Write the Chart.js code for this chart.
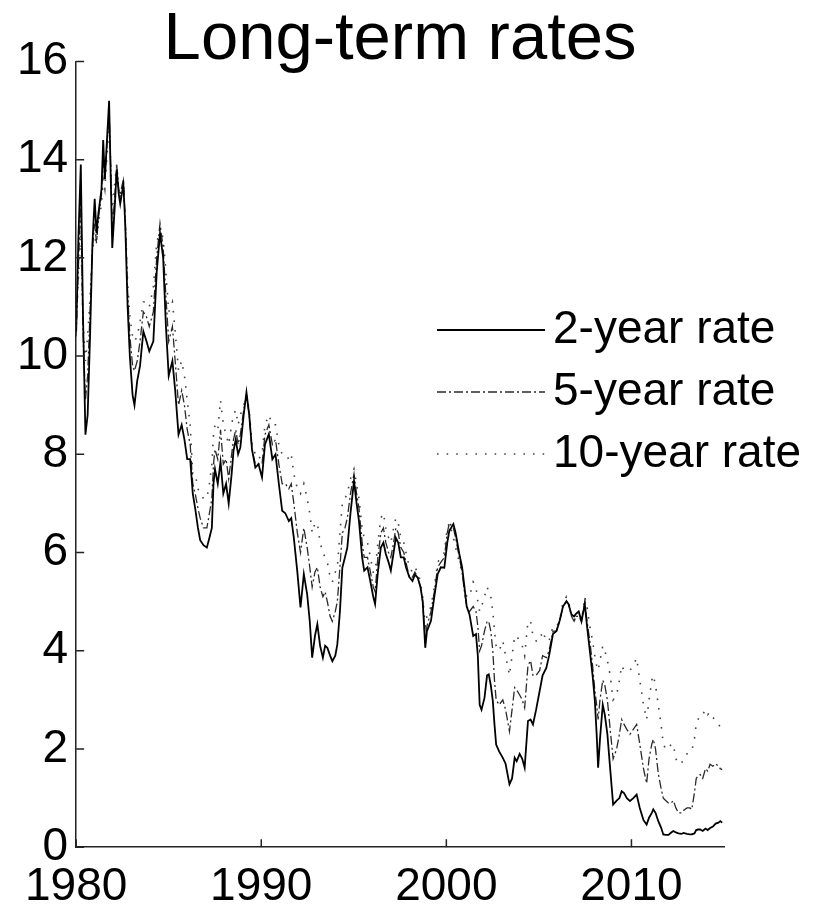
<!DOCTYPE html>
<html>
<head>
<meta charset="utf-8">
<title>Long-term rates</title>
<script src="https://cdn.jsdelivr.net/npm/chart.js@4.4.1/dist/chart.umd.min.js"></script>
<style>
  html, body { margin: 0; padding: 0; background: #fff; }
  #wrap { width: 820px; height: 904px; }
</style>
</head>
<body>
<div id="wrap"><canvas id="chart" width="820" height="904"></canvas></div>
<script>
// Axis ticks
const yearTicks = [1980, 1990, 2000, 2010];
const rateTicks = [0, 2, 4, 6, 8, 10, 12, 14, 16];
const seriesNames = ['2-year rate', '5-year rate', '10-year rate'];

// Observation dates (decimal years), one line per calendar year
const dates = [
  1980.00, 1980.12, 1980.25, 1980.37, 1980.50, 1980.62, 1980.75, 1980.88,
  1981.00, 1981.10, 1981.20, 1981.37, 1981.46, 1981.55, 1981.65, 1981.78, 1981.87, 1981.95,
  1982.08, 1982.19, 1982.30, 1982.38, 1982.55, 1982.65, 1982.78, 1982.90,
  1983.05, 1983.15, 1983.30, 1983.45, 1983.63, 1983.80, 1983.95,
  1984.17, 1984.35, 1984.53, 1984.70, 1984.85,
  1985.00, 1985.20, 1985.35, 1985.53, 1985.70, 1985.85,
  1986.00, 1986.16, 1986.30, 1986.43, 1986.58, 1986.70, 1986.88,
  1987.06, 1987.20, 1987.33, 1987.42, 1987.50, 1987.65, 1987.80, 1987.95,
  1988.10, 1988.24, 1988.40, 1988.50, 1988.62, 1988.75, 1988.87,
  1989.05, 1989.20, 1989.35, 1989.50, 1989.68, 1989.85,
  1990.04, 1990.20, 1990.41, 1990.60, 1990.77, 1990.95,
  1991.13, 1991.30, 1991.49, 1991.62, 1991.76, 1991.95,
  1992.12, 1992.30, 1992.48, 1992.62, 1992.75, 1992.90,
  1993.03, 1993.18, 1993.33, 1993.45, 1993.57, 1993.72, 1993.84,
  1994.00, 1994.11, 1994.25, 1994.38, 1994.52, 1994.65, 1994.82,
  1995.01, 1995.15, 1995.28, 1995.45, 1995.56, 1995.74, 1995.90,
  1996.05, 1996.15, 1996.30, 1996.46, 1996.60, 1996.73, 1996.88,
  1997.00, 1997.15, 1997.27, 1997.40, 1997.54, 1997.70, 1997.82,
  1998.00, 1998.17, 1998.30, 1998.45, 1998.60, 1998.72, 1998.86, 1998.95,
  1999.17, 1999.35, 1999.53, 1999.70, 1999.89,
  2000.05, 2000.16, 2000.38, 2000.50, 2000.70, 2000.85, 2000.98,
  2001.10, 2001.25, 2001.45, 2001.60, 2001.70, 2001.80, 2001.90,
  2002.06, 2002.20, 2002.29, 2002.40, 2002.51, 2002.60, 2002.69, 2002.85,
  2003.05, 2003.20, 2003.41, 2003.55, 2003.69, 2003.80, 2003.96,
  2004.10, 2004.23, 2004.41, 2004.55, 2004.68, 2004.85,
  2005.04, 2005.20, 2005.40, 2005.55, 2005.76, 2005.95,
  2006.12, 2006.30, 2006.49, 2006.60, 2006.76, 2006.90,
  2007.00, 2007.15, 2007.30, 2007.48, 2007.60, 2007.75, 2007.90,
  2008.02, 2008.12, 2008.20, 2008.30, 2008.45, 2008.56, 2008.70, 2008.85,
  2009.01, 2009.20, 2009.35, 2009.47, 2009.60, 2009.75, 2009.92,
  2010.10, 2010.28, 2010.45, 2010.65, 2010.82, 2010.95,
  2011.10, 2011.18, 2011.30, 2011.45, 2011.60, 2011.72, 2011.85,
  2012.00, 2012.15, 2012.26, 2012.40, 2012.54, 2012.70, 2012.81,
  2013.00, 2013.15, 2013.26, 2013.40, 2013.50, 2013.60, 2013.71, 2013.85,
  2014.00, 2014.12, 2014.25, 2014.40, 2014.55, 2014.70, 2014.80, 2014.90
];

// 2-year rate, percent
const rate2y = [
  10.5, 12.4, 13.9, 10.8, 8.4, 8.8, 10.4, 12.3,
  13.2, 12.5, 12.9, 13.4, 14.4, 13.6, 14.3, 15.2, 13.6, 12.2,
  13.0, 13.8, 13.3, 13.1, 13.5, 12.7, 11.0, 10.0,
  9.2, 9.0, 9.5, 9.8, 10.5, 10.3, 10.1,
  10.3, 11.7, 12.5, 12.0, 10.6,
  9.6, 9.9, 9.3, 8.4, 8.6, 8.3,
  7.9, 7.9, 7.2, 6.9, 6.5, 6.25, 6.15,
  6.1, 6.3, 6.5, 7.4, 7.7, 7.4, 7.85, 7.2,
  7.4, 7.0, 7.6, 8.07, 8.3, 8.0, 8.14,
  8.8, 9.26, 8.8, 8.1, 7.73, 7.8,
  7.53, 8.2, 8.41, 7.9, 8.0, 7.4,
  6.85, 6.8, 6.64, 6.7, 6.3, 5.6,
  4.88, 5.56, 5.15, 4.6, 3.86, 4.3,
  4.54, 4.1, 3.86, 4.1, 4.06, 3.9, 3.79,
  3.9, 4.13, 4.8, 5.69, 5.9, 6.1, 6.8,
  7.46, 7.0, 6.64, 5.9, 5.63, 5.7, 5.4,
  5.1, 4.95, 5.6, 6.1, 6.2, 5.97, 5.8,
  5.63, 6.0, 6.3, 6.2, 5.9, 5.9, 5.7,
  5.5, 5.42, 5.55, 5.49, 5.3, 5.01, 4.06, 4.4,
  4.61, 5.1, 5.56, 5.7, 5.69,
  6.2, 6.44, 6.58, 6.4, 5.97, 5.7, 5.29,
  4.9, 4.74, 4.3, 4.34, 3.9, 2.9, 2.8,
  3.04, 3.5, 3.52, 3.3, 2.98, 2.5, 2.09, 1.95,
  1.82, 1.7, 1.28, 1.4, 1.82, 1.75, 1.9,
  1.8, 1.62, 2.57, 2.6, 2.5, 2.8,
  3.18, 3.5, 3.65, 3.9, 4.34, 4.4,
  4.61, 4.9, 5.01, 4.95, 4.74, 4.7,
  4.75, 4.8, 4.6, 4.95, 4.5, 4.0, 3.5,
  3.0, 2.3, 1.62, 2.2, 2.9, 2.7, 2.3, 1.6,
  0.87, 0.95, 1.0, 1.14, 1.1, 1.0, 0.94,
  1.0, 1.07, 0.8, 0.55, 0.46, 0.6,
  0.7, 0.77, 0.7, 0.53, 0.4, 0.26, 0.25,
  0.25, 0.3, 0.33, 0.3, 0.28, 0.27, 0.29,
  0.27, 0.26, 0.26, 0.28, 0.35, 0.36, 0.36, 0.33,
  0.38, 0.35, 0.39, 0.42, 0.48, 0.5, 0.53, 0.5
];

// 5-year rate, percent
const rate5y = [
  10.4, 11.8, 13.2, 10.5, 9.1, 9.6, 10.9, 12.2,
  12.7, 12.3, 12.8, 13.3, 14.1, 13.6, 14.2, 15.0, 13.8, 12.6,
  13.2, 13.9, 13.4, 13.3, 13.6, 12.8, 11.3, 10.4,
  9.8, 9.7, 9.9, 10.3, 10.9, 10.8, 10.6,
  10.9, 12.0, 12.7, 12.2, 11.2,
  10.3, 10.6, 9.9, 9.0, 9.3, 9.0,
  8.5, 8.2, 7.4, 7.2, 6.9, 6.7, 6.5,
  6.5, 6.8, 7.1, 7.8, 8.1, 7.9, 8.5, 7.8,
  7.9, 7.5, 8.0, 8.3, 8.5, 8.2, 8.4,
  8.9, 9.2, 8.8, 8.1, 7.8, 7.8,
  7.8, 8.4, 8.6, 8.2, 8.3, 7.8,
  7.4, 7.4, 7.3, 7.4, 7.0, 6.4,
  6.0, 6.5, 6.1, 5.7, 5.3, 5.6,
  5.7, 5.3, 5.1, 5.2, 5.0, 4.7, 4.6,
  4.8, 5.0, 5.7, 6.4, 6.5, 6.7, 7.2,
  7.6, 7.2, 6.9, 6.2, 5.9, 5.9, 5.6,
  5.3, 5.2, 5.9, 6.4, 6.5, 6.2, 6.0,
  5.9, 6.2, 6.5, 6.4, 6.1, 6.0, 5.8,
  5.5, 5.5, 5.6, 5.5, 5.3, 5.0, 4.2, 4.5,
  4.8, 5.2, 5.7, 5.8, 5.9,
  6.4, 6.6, 6.5, 6.3, 5.9, 5.6, 5.2,
  4.9, 4.8, 4.9, 4.8, 4.5, 4.0, 4.1,
  4.4, 4.6, 4.6, 4.4, 4.0, 3.4, 3.0, 2.9,
  3.0, 2.8, 2.36, 2.8, 3.25, 3.2, 3.1,
  3.0, 2.84, 3.7, 3.8, 3.5, 3.5,
  3.6, 3.9, 3.86, 4.0, 4.4, 4.4,
  4.6, 4.9, 5.0, 4.95, 4.7, 4.6,
  4.7, 4.7, 4.6, 5.0, 4.6, 4.2, 3.7,
  3.2, 2.9, 2.6, 3.0, 3.4, 3.3, 3.0, 2.4,
  1.8, 2.0, 2.3, 2.6, 2.5, 2.4, 2.3,
  2.4, 2.5, 2.1, 1.6, 1.3, 1.8,
  2.1, 2.2, 2.0, 1.5, 1.2, 1.0, 0.95,
  0.9, 0.9, 0.95, 0.8, 0.7, 0.7, 0.75,
  0.8, 0.8, 0.77, 1.1, 1.4, 1.45, 1.48, 1.4,
  1.6, 1.55, 1.69, 1.65, 1.7, 1.65, 1.6, 1.58
];

// 10-year rate, percent
const rate10y = [
  10.6, 11.6, 12.5, 10.7, 9.9, 10.4, 11.2, 12.2,
  12.4, 12.3, 12.7, 13.1, 13.6, 13.4, 14.0, 14.7, 13.9, 12.9,
  13.5, 13.9, 13.4, 13.2, 13.5, 12.8, 11.5, 10.8,
  10.4, 10.3, 10.4, 10.7, 11.1, 11.1, 11.0,
  11.4, 12.3, 12.6, 12.4, 11.7,
  10.9, 11.1, 10.5, 9.7, 9.9, 9.6,
  9.1, 8.6, 7.6, 7.6, 7.3, 7.2, 7.1,
  7.1, 7.4, 7.8, 8.4, 8.6, 8.5, 9.1, 8.6,
  8.4, 8.2, 8.6, 8.8, 8.9, 8.6, 8.8,
  9.0, 9.2, 8.9, 8.2, 8.0, 7.9,
  8.0, 8.6, 8.8, 8.6, 8.6, 8.2,
  8.0, 8.0, 7.9, 8.0, 7.6, 7.3,
  7.2, 7.4, 7.1, 6.8, 6.4, 6.6,
  6.6, 6.2, 6.0, 5.9, 5.8, 5.5, 5.4,
  5.6, 5.7, 6.4, 7.0, 7.1, 7.2, 7.5,
  7.7, 7.4, 7.1, 6.5, 6.3, 6.2, 5.9,
  5.6, 5.6, 6.2, 6.7, 6.8, 6.5, 6.3,
  6.2, 6.5, 6.7, 6.6, 6.3, 6.2, 6.0,
  5.7, 5.6, 5.7, 5.6, 5.4, 5.1, 4.5, 4.7,
  4.9, 5.3, 5.8, 5.9, 6.0,
  6.5, 6.6, 6.3, 6.1, 5.8, 5.6, 5.3,
  5.1, 5.1, 5.4, 5.3, 5.0, 4.8, 4.9,
  5.1, 5.3, 5.2, 5.1, 4.8, 4.4, 4.1, 4.0,
  4.2, 3.9, 3.5, 3.9, 4.3, 4.3, 4.2,
  4.1, 3.9, 4.6, 4.6, 4.3, 4.2,
  4.2, 4.4, 4.2, 4.2, 4.5, 4.5,
  4.6, 5.0, 5.1, 5.0, 4.75, 4.6,
  4.7, 4.7, 4.6, 5.1, 4.9, 4.5, 4.2,
  3.9, 3.7, 3.6, 3.8, 4.1, 4.0, 3.8, 3.5,
  3.0, 3.1, 3.4, 3.7, 3.6, 3.6, 3.6,
  3.7, 3.85, 3.4, 2.9, 2.6, 3.0,
  3.4, 3.5, 3.3, 2.9, 2.5, 2.1, 2.0,
  2.0, 2.1, 2.1, 1.8, 1.7, 1.7, 1.8,
  1.9, 1.95, 1.96, 2.2, 2.5, 2.6, 2.7, 2.7,
  2.8, 2.7, 2.75, 2.65, 2.55, 2.5, 2.45, 2.4
];

const FONT = '"Liberation Sans", Arial, Helvetica, sans-serif';
const toPoints = vals => dates.map((d, i) => ({ x: d, y: vals[i] }));

// Tick marks pointing into the plot area, placed by the scales
const inwardTicks = {
  id: 'inwardTicks',
  afterDatasetsDraw(chart, args, opts) {
    const { ctx, chartArea: a, scales: { x, y } } = chart;
    ctx.save();
    ctx.strokeStyle = opts.color;
    ctx.lineWidth = opts.width;
    ctx.beginPath();
    y.ticks.forEach(t => {
      const py = y.getPixelForValue(t.value);
      ctx.moveTo(a.left, py);
      ctx.lineTo(a.left + opts.length, py);
    });
    x.ticks.forEach(t => {
      const px = x.getPixelForValue(t.value);
      ctx.moveTo(px, a.bottom);
      ctx.lineTo(px, a.bottom - opts.length);
    });
    ctx.stroke();
    ctx.restore();
  }
};

// Boxless legend: line sample followed by the series label
const lineLegend = {
  id: 'lineLegend',
  afterDraw(chart, args, opts) {
    const ctx = chart.ctx;
    ctx.save();
    ctx.font = `${opts.fontSize}px ${FONT}`;
    ctx.textBaseline = 'middle';
    ctx.textAlign = 'left';
    chart.data.datasets.forEach((ds, i) => {
      const yy = opts.top + i * opts.rowGap;
      ctx.beginPath();
      ctx.setLineDash(ds.borderDash || []);
      ctx.strokeStyle = ds.borderColor;
      ctx.lineWidth = ds.borderWidth;
      ctx.moveTo(opts.left, yy);
      ctx.lineTo(opts.left + opts.lineLength, yy);
      ctx.stroke();
      ctx.setLineDash([]);
      ctx.fillStyle = opts.color;
      ctx.fillText(ds.label, opts.left + opts.lineLength + opts.gap, yy);
    });
    ctx.restore();
  }
};

new Chart(document.getElementById('chart'), {
  type: 'line',
  data: {
    datasets: [
      { label: seriesNames[0], data: toPoints(rate2y), borderColor: '#000000', borderWidth: 1.8, borderDash: [] },
      { label: seriesNames[1], data: toPoints(rate5y), borderColor: '#2a2a2a', borderWidth: 1.3, borderDash: [9, 3, 2, 3] },
      { label: seriesNames[2], data: toPoints(rate10y), borderColor: '#444444', borderWidth: 1.6, borderDash: [1.6, 8] }
    ]
  },
  options: {
    responsive: false,
    animation: false,
    devicePixelRatio: 1,
    layout: { padding: { left: 9, right: 96, top: 0, bottom: -24 } },
    elements: { point: { radius: 0 }, line: { tension: 0, fill: false } },
    plugins: {
      legend: { display: false },
      tooltip: { enabled: false },
      title: {
        display: true,
        text: 'Long-term rates',
        fullSize: false,
        color: '#000',
        font: { family: FONT, size: 67, weight: 'normal', lineHeight: 1.2 },
        padding: { top: 0, bottom: -19 }
      },
      inwardTicks: { color: '#222', width: 1.5, length: 8 },
      lineLegend: { left: 437, top: 330, rowGap: 62, lineLength: 108, gap: 8, fontSize: 46, color: '#000' }
    },
    scales: {
      x: {
        type: 'linear',
        min: 1980,
        max: 2015,
        afterBuildTicks: s => { s.ticks = yearTicks.map(v => ({ value: v })); },
        ticks: {
          color: '#000',
          font: { family: FONT, size: 46, lineHeight: 0.8 },
          padding: 22,
          maxRotation: 0,
          autoSkip: false,
          callback: v => String(v)
        },
        grid: { display: false, drawTicks: false },
        border: { display: true, color: '#222', width: 1.5 }
      },
      y: {
        min: 0,
        max: 16,
        afterBuildTicks: s => { s.ticks = rateTicks.map(v => ({ value: v })); },
        ticks: {
          color: '#000',
          font: { family: FONT, size: 46 },
          padding: 8,
          autoSkip: false,
          callback: v => String(v)
        },
        grid: { display: false, drawTicks: false },
        border: { display: true, color: '#222', width: 1.5 }
      }
    }
  },
  plugins: [inwardTicks, lineLegend]
});
</script>
</body>
</html>
